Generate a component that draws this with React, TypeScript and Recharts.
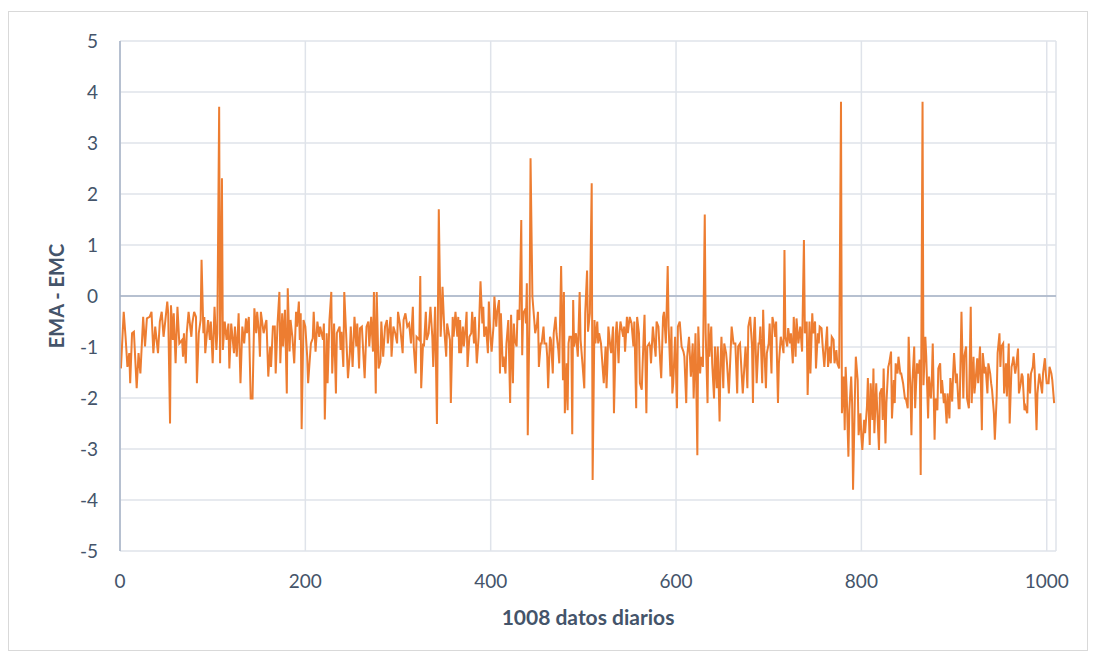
import { LineChart, Line, XAxis, YAxis, CartesianGrid, ReferenceLine } from 'recharts';

// [día, EMA - EMC], por tramos de ~125 días
const tramo1: [number, number][] = [
  [1, -1.42], [4, -0.31], [6, -0.8], [8, -1.39], [10, -1.12], [11, -1.71], [13, -0.73], [15, -0.7],
  [18, -1.81], [20, -1.12], [22, -1.52], [25, -0.41], [27, -0.99], [29, -0.44], [32, -0.41], [34, -0.31],
  [36, -1.12], [38, -0.6], [41, -1.12], [43, -0.5], [45, -0.31], [47, -0.8], [49, -0.47], [51, -0.11],
  [52, -0.34], [54, -2.5], [55, -0.18], [57, -0.86], [58, -0.34], [60, -1.32], [62, -0.21], [64, -0.93],
  [67, -0.86], [68, -1.19], [69, -0.73], [71, -1.32], [72, -0.73], [74, -0.31], [77, -0.8], [78, -0.54],
  [80, -0.31], [82, -0.41], [83, -1.71], [85, -0.73], [87, -0.47], [88, 0.71], [90, -0.73], [91, -0.41],
  [92, -1.12], [95, -0.47], [97, -0.86], [98, -0.5], [100, -1.32], [102, -0.21], [104, -1.06], [105, -0.73],
  [107, 3.71], [108, -1.32], [110, 2.31], [111, -1.06], [113, -0.5], [115, -0.86], [117, -0.54], [118, -1.42],
  [120, -0.54], [123, -1.12],
];

const tramo2: [number, number][] = [
  [124, -0.6], [126, -1.19], [128, -0.34], [130, -1.71], [132, -0.6], [134, -0.93], [136, -0.44], [137, -0.73],
  [139, -0.41], [141, -2.01], [143, -2.01], [145, -0.24], [147, -0.73], [148, -0.31], [150, -0.73], [151, -1.19],
  [152, -0.31], [155, -0.73], [157, -0.54], [158, -0.47], [160, -1.58], [162, -0.99], [163, -1.39], [165, -0.6],
  [167, -0.6], [168, -1.52], [170, -0.54], [172, 0.08], [173, -1.32], [175, -0.34], [176, -0.99], [178, -0.27],
  [180, -1.91], [181, 0.15], [183, -1.09], [184, -0.47], [186, -0.8], [188, -1.32], [190, -0.31], [191, -0.6],
  [193, -0.11], [194, -0.86], [195, -0.34], [196, -2.61], [198, -0.47], [200, -0.6], [202, -1.19], [203, -1.71],
  [206, -0.93], [208, -0.83], [209, -0.31], [211, -1.09], [213, -0.5], [215, -0.8], [216, -0.6], [219, -0.86],
  [220, -0.54], [221, -2.42], [223, -0.73], [224, -1.71], [226, -0.47], [228, 0.08], [229, -1.52], [231, -0.54],
  [233, -1.91], [234, -0.73], [237, -0.6], [238, -1.06], [239, -0.7], [241, -1.39], [242, 0.08],
];

const tramo3: [number, number][] = [
  [244, -0.73], [246, -1.61], [248, -1.12], [249, -0.6], [251, -1.39], [253, -0.41], [255, -0.99], [256, -0.54],
  [258, -1.42], [259, -0.63], [261, -0.6], [264, -1.61], [266, -0.6], [268, -0.5], [269, -0.99], [271, -0.41],
  [273, -1.09], [274, 0.08], [276, -1.91], [277, 0.08], [279, -1.42], [281, -1.29], [282, -0.5], [284, -1.19],
  [286, -0.6], [288, -0.47], [289, -0.93], [292, -0.41], [293, -1.19], [295, -0.6], [297, -0.73], [299, -0.93],
  [300, -0.31], [302, -0.54], [305, -1.12], [306, -0.47], [308, -0.34], [310, -0.6], [312, -0.54], [314, -0.93],
  [316, -0.21], [317, -0.99], [319, -1.52], [320, -0.8], [323, -0.86], [324, 0.39], [325, -1.81], [327, -0.93],
  [328, -0.99], [330, -0.31], [331, -0.86], [333, -0.73], [334, -0.47], [335, -0.21], [337, -0.8], [338, -1.39],
  [340, -0.21], [342, -2.51], [344, 1.7], [346, -0.8], [347, -0.37], [348, 0.18], [350, -0.67], [352, -1.19],
  [353, -0.54], [356, -0.86], [357, -2.1], [359, -0.41], [360, -0.8], [362, -0.31], [364, -0.8], [365, -0.41],
  [366, -1.12],
];

const tramo4: [number, number][] = [
  [367, -0.47], [368, -1.12], [370, -0.6], [371, -0.99], [373, -0.6], [374, -0.31], [375, -1.39], [377, -0.8],
  [379, -0.73], [380, -0.31], [382, -0.93], [383, -0.41], [385, -1.32], [387, -0.8], [389, 0.29], [391, -0.54],
  [392, -0.21], [393, -0.8], [395, -0.6], [397, -1.12], [398, -0.11], [400, -0.86], [401, -1.09], [403, -0.6],
  [404, -0.01], [406, -0.6], [407, -0.31], [409, -0.08], [410, -1.52], [411, -0.34], [413, -1.39], [414, -1.19],
  [416, -1.52], [417, -0.93], [419, -0.47], [421, -2.1], [422, -0.37], [424, -1.71], [425, -0.54], [426, -0.86],
  [428, -0.99], [429, -0.27], [431, -0.47], [433, 1.49], [434, -1.16], [435, -0.34], [437, -0.27], [438, -0.54],
  [439, 0.25], [440, -2.73], [442, -0.27], [443, 2.7], [445, -0.01], [447, -0.47], [448, -0.73], [450, -0.54],
  [451, -0.31], [452, -1.39], [454, -0.93], [455, -0.93], [457, -0.6], [458, -0.93], [460, -0.93], [461, -1.19],
  [462, -1.81], [464, -0.8], [465, -0.86], [467, -1.52], [468, -0.73], [470, -0.41], [471, -0.73], [473, -1.06],
  [474, -1.32], [476, 0.59], [477, -0.54], [478, -1.65], [479, 0.08], [480, -2.3], [482, -1.32], [483, -2.24],
  [484, -0.93], [485, -0.8], [487, -0.8], [488, -2.71], [489, -0.08], [490, -0.99], [492, -0.73],
];

const tramo5: [number, number][] = [
  [494, -1.19], [496, 0.08], [497, -0.86], [499, -1.32], [501, -1.81], [502, -0.34], [504, 0.5], [505, -0.7],
  [507, -0.34], [509, 2.21], [510, -3.61], [512, -0.47], [513, -0.93], [515, -0.5], [516, -0.93], [517, -0.73],
  [519, -0.93], [521, -1.45], [522, -1.71], [524, -0.99], [525, -1.81], [526, -1.32], [527, -0.6], [529, -0.99],
  [530, -1.12], [532, -0.6], [533, -2.3], [535, -0.73], [536, -0.5], [538, -1.32], [539, -0.73], [540, -0.5],
  [543, -0.8], [544, -0.6], [545, -1.09], [547, -0.41], [548, -0.73], [550, -0.41], [552, -0.54], [554, -0.99],
  [555, -0.5], [557, -2.2], [558, -0.41], [560, -0.73], [561, -1.71], [563, -1.84], [565, -0.8], [566, -0.37],
  [568, -2.3], [569, -0.99], [571, -0.93], [572, -0.99], [573, -1.32], [575, -0.6], [576, -0.8], [578, -1.19],
  [579, -0.5], [581, -0.6], [583, -1.32], [584, -1.61], [586, -0.41], [587, -0.31], [589, -0.93], [591, 0.59],
  [592, -0.6], [594, -1.58], [595, -0.6], [596, -1.91], [597, -1.71], [599, -0.8], [601, -2.2], [602, -0.6],
  [604, -0.5], [606, -0.99], [608, -1.09], [609, -1.19], [611, -2.1], [612, -1.19], [614, -0.8],
];

const tramo6: [number, number][] = [
  [616, -1.58], [618, -0.93], [619, -2.01], [621, -0.73], [623, -3.12], [624, -0.6], [626, -1.52], [627, -1.19],
  [629, -1.39], [631, 1.6], [632, -0.73], [634, -2.1], [635, -0.54], [636, -1.19], [638, -0.6], [639, -1.32],
  [641, -2.01], [642, -0.99], [644, -1.81], [645, -0.99], [647, -2.46], [648, -1.32], [649, -0.8], [651, -1.81],
  [652, -0.93], [654, -1.12], [655, -1.32], [657, -1.91], [660, -0.6], [662, -0.93], [664, -0.93], [666, -1.91],
  [667, -0.99], [669, -0.93], [671, -1.58], [672, -1.91], [675, -0.99], [677, -1.81], [678, -0.6], [680, -0.41],
  [682, -0.99], [683, -2.1], [684, -0.73], [685, -0.41], [687, -1.71], [689, -0.93], [690, -0.93], [691, -0.6],
  [693, -1.71], [694, -0.27], [695, -0.93], [697, -1.81], [698, -1.12], [700, -0.93], [701, -0.54], [703, -1.52],
  [704, -0.41], [706, -0.6], [707, -0.8], [708, -0.5], [710, -2.1], [711, -1.32], [713, -0.8], [715, -0.99],
  [716, -1.12], [717, 0.9], [718, -0.8], [720, -0.99], [721, -0.63], [723, -0.93], [724, -0.73], [726, -1.32],
  [727, -0.41], [729, -1.19], [730, -0.44], [732, -0.93], [734, -0.6], [736, -1.09], [738, 1.1], [739, -0.73],
  [741, -0.5], [742, -1.94], [744, -0.5],
];

const tramo7: [number, number][] = [
  [745, -1.52], [747, -0.34], [748, -0.73], [750, -0.5], [751, -1.42], [753, -0.73], [754, -0.93], [755, -0.6],
  [757, -0.63], [758, -0.93], [760, -1.39], [761, -1.12], [763, -0.6], [764, -1.39], [766, -0.99], [767, -1.32],
  [768, -0.8], [770, -0.86], [771, -1.32], [773, -1.06], [774, -1.32], [776, -1.42], [778, 3.81], [779, -2.3],
  [781, -1.58], [782, -2.63], [783, -1.39], [784, -1.81], [786, -3.15], [787, -2.24], [789, -1.58], [790, -2.1],
  [791, -3.8], [793, -1.97], [794, -1.19], [796, -1.65], [797, -2.73], [799, -2.3], [800, -2.76], [801, -3.02],
  [803, -2.43], [804, -2.69], [806, -2.17], [807, -1.61], [809, -2.92], [810, -1.71], [812, -2.43], [813, -1.42],
  [814, -2.69], [816, -1.71], [817, -2.17], [819, -3.02], [820, -1.91], [822, -1.81], [823, -2.43], [824, -1.42],
  [826, -2.89], [827, -2.1], [829, -1.39], [830, -1.32], [832, -1.09], [833, -2.4], [835, -1.65], [836, -2.1],
  [837, -1.32], [839, -1.52], [840, -1.19], [842, -1.52], [843, -1.52], [845, -1.71], [847, -2.01], [848, -2.01],
  [850, -2.2], [851, -0.8], [853, -1.91], [854, -2.73], [855, -1.71], [857, -0.99], [858, -2.2], [860, -1.32],
  [861, -1.52], [863, -1.25], [864, -3.51], [866, 3.81],
];

const tramo8: [number, number][] = [
  [867, -1.75], [869, -0.8], [870, -1.19], [872, -2.4], [873, -1.58], [875, -2.01], [876, -1.65], [877, -0.93],
  [879, -2.82], [880, -2.01], [882, -2.24], [883, -1.42], [885, -1.32], [886, -1.91], [887, -1.65], [889, -2.1],
  [890, -1.91], [892, -2.5], [893, -1.91], [895, -2.4], [896, -1.61], [898, -2.07], [899, -1.52], [900, -1.12],
  [902, -1.71], [903, -1.52], [905, -2.2], [906, -2.2], [908, -0.31], [910, -2.01], [911, -1.19], [913, -0.99],
  [914, -2.01], [916, -2.2], [918, -0.21], [919, -2.1], [921, -1.19], [922, -1.91], [923, -1.71], [925, -1.22],
  [926, -1.71], [928, -0.99], [929, -1.75], [930, -2.63], [931, -1.12], [933, -1.52], [934, -1.39], [936, -1.91],
  [937, -1.32], [939, -1.52], [940, -1.71], [941, -1.84], [943, -2.3], [944, -2.82], [946, -1.97], [947, -1.12],
  [949, -0.73], [950, -1.39], [951, -0.99], [953, -0.93], [954, -1.91], [956, -1.32], [957, -1.97], [959, -0.93],
  [960, -2.5], [962, -1.39], [963, -1.32], [964, -1.19], [966, -1.52], [967, -1.39], [969, -1.03], [970, -1.91],
  [972, -1.71], [973, -1.52], [974, -1.58], [976, -2.24], [977, -2.17], [979, -2.3], [980, -1.52], [982, -1.91],
  [983, -1.52], [985, -1.39], [986, -1.12], [987, -1.45], [989, -2.63], [990, -1.91], [992, -1.52], [993, -1.65],
  [995, -1.91], [996, -1.52], [998, -1.22], [999, -1.52], [1000, -1.71], [1002, -1.71], [1003, -1.39], [1005, -1.52],
  [1006, -1.65], [1008, -2.1],
];

const xTicks = [0, 200, 400, 600, 800, 1000];
const yTicks = [-5, -4, -3, -2, -1, 0, 1, 2, 3, 4, 5];

const data = [...tramo1, ...tramo2, ...tramo3, ...tramo4, ...tramo5, ...tramo6, ...tramo7, ...tramo8]
  .map(([dia, valor]) => ({ dia, valor }));

const textColor = '#44546a';
const font = 'Lato, "Open Sans", sans-serif';

export default function App() {
  return (
    <div
      style={{
        width: 1078,
        height: 638,
        marginTop: 3,
        border: '1px solid #d9d9d9',
        background: '#ffffff',
        fontFamily: font,
      }}
    >
      <LineChart
        width={1078}
        height={636}
        data={data}
        margin={{ top: 29, right: 31, left: 0, bottom: 0 }}
      >
        <CartesianGrid stroke="#dfe3ea" strokeWidth={1.5} />
        <XAxis
          dataKey="dia"
          type="number"
          domain={[0, 1010]}
          ticks={xTicks}
          allowDataOverflow
          height={97}
          axisLine={false}
          tickLine={false}
          tickSize={0}
          tickMargin={24}
          tick={{ fill: textColor, fontSize: 19, fontFamily: font }}
          label={{
            value: '1008 datos diarios',
            position: 'insideTop',
            offset: 59,
            fill: textColor,
            fontSize: 21,
            fontWeight: 700,
            fontFamily: font,
          }}
        />
        <YAxis
          type="number"
          domain={[-5, 5]}
          ticks={yTicks}
          width={111}
          axisLine={{ stroke: '#a6b2c6', strokeWidth: 1.5 }}
          tickLine={false}
          tickSize={0}
          tickMargin={22}
          tick={{ fill: textColor, fontSize: 19, fontFamily: font }}
          label={{
            value: 'EMA - EMC',
            angle: -90,
            position: 'insideLeft',
            offset: 48,
            fill: textColor,
            fontSize: 20,
            fontWeight: 700,
            fontFamily: font,
            style: { textAnchor: 'middle' },
          }}
        />
        <ReferenceLine y={0} stroke="#a6b2c6" strokeWidth={1.5} />
        <Line
          type="linear"
          dataKey="valor"
          stroke="#ed7d31"
          strokeWidth={2}
          dot={false}
          isAnimationActive={false}
        />
      </LineChart>
    </div>
  );
}
